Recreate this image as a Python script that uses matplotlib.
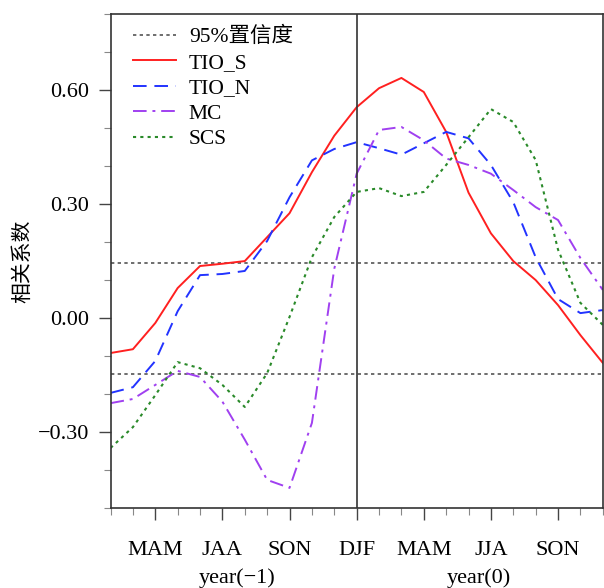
import numpy as np
import matplotlib
matplotlib.use("Agg")
import matplotlib.pyplot as plt
from matplotlib.ticker import MultipleLocator, FixedLocator
from matplotlib.transforms import blended_transform_factory

# Data, 23 points from year(-1) to year(0)
tio_s = [-0.092, -0.082, -0.013, 0.079, 0.137, 0.143, 0.150, 0.213, 0.276, 0.384, 0.480,
         0.555, 0.605, 0.632, 0.595, 0.490, 0.330, 0.223, 0.150, 0.100, 0.034, -0.045, -0.118]
tio_n = [-0.197, -0.182, -0.113, 0.018, 0.113, 0.116, 0.124, 0.203, 0.318, 0.415, 0.445,
         0.463, 0.447, 0.430, 0.460, 0.490, 0.473, 0.403, 0.305, 0.160, 0.050, 0.013, 0.021]
mc = [-0.224, -0.213, -0.176, -0.139, -0.155, -0.220, -0.320, -0.426, -0.447, -0.276, 0.130,
      0.380, 0.495, 0.503, 0.468, 0.420, 0.403, 0.380, 0.337, 0.292, 0.258, 0.158, 0.074]
scs = [-0.342, -0.287, -0.203, -0.116, -0.132, -0.176, -0.234, -0.145, 0.003, 0.160, 0.266,
       0.332, 0.342, 0.321, 0.332, 0.403, 0.476, 0.550, 0.516, 0.416, 0.180, 0.040, -0.018]
sig95 = 0.146
tick_pos = [2, 5, 8, 11, 14, 17, 20]
tick_labels = ["MAM", "JAA", "SON", "DJF", "MAM", "JJA", "SON"]

plt.rcParams['font.family'] = ['Liberation Serif', 'Noto Sans CJK SC']
plt.rcParams['axes.unicode_minus'] = True
fs = 16

fig = plt.figure(figsize=(6.04, 5.88), dpi=100)
ax = fig.add_axes([0.183, 0.136, 0.815, 0.840])

x = np.arange(len(tio_s))
ax.axhline(sig95, color='#555555', ls=(0, (2, 2)), lw=1.2, label='95%置信度')
ax.axhline(-sig95, color='#555555', ls=(0, (2, 2)), lw=1.2)
ax.plot(x, tio_s, color='#ff2020', lw=1.4, label='TIO_S')
ax.plot(x, tio_n, color='#2233ff', lw=1.4, ls=(0, (7, 4)), label='TIO_N')
ax.plot(x, mc, color='#a040f0', lw=1.4, ls=(0, (7, 3, 1.5, 3)), label='MC')
ax.plot(x, scs, color='#2a8a2a', lw=1.5, ls=(0, (1.5, 2)), label='SCS')
ax.axvline(11, color='#333333', lw=1.2)

ax.set_xlim(0, 22)
ax.set_ylim(-0.5, 0.8)
ax.yaxis.set_major_locator(FixedLocator([-0.3, 0.0, 0.3, 0.6]))
ax.yaxis.set_minor_locator(MultipleLocator(0.1))
ax.set_yticklabels(["\u22120.30", "0.00", "0.30", "0.60"])
ax.xaxis.set_major_locator(FixedLocator(tick_pos))
ax.xaxis.set_minor_locator(MultipleLocator(1))
ax.set_xticklabels(tick_labels)

ax.tick_params(which='major', length=8.6, width=1.0, color='#444444', labelsize=fs)
ax.tick_params(which='minor', length=4.8, width=0.8, color='#888888')
ax.tick_params(axis='x', which='major', pad=15)
ax.tick_params(axis='y', which='major', pad=7)
for sp in ax.spines.values():
    sp.set_color('#333333')
    sp.set_linewidth(1.2)

ax.set_ylabel('相关系数', fontsize=15)
ax.yaxis.set_label_coords(-0.157, 0.5)

trans = blended_transform_factory(ax.transData, ax.transAxes)
ax.text(5.65, -0.142, 'year(\u22121)', transform=trans, ha='center', va='center', fontsize=fs)
ax.text(16.45, -0.142, 'year(0)', transform=trans, ha='center', va='center', fontsize=fs)

ax.legend(loc='upper left', frameon=False, fontsize=15.5, handlelength=2.0,
          handletextpad=0.6, labelspacing=0.25, borderaxespad=0.2,
          bbox_to_anchor=(0.019, 1.0))

fig.savefig('out.png', dpi=100)
